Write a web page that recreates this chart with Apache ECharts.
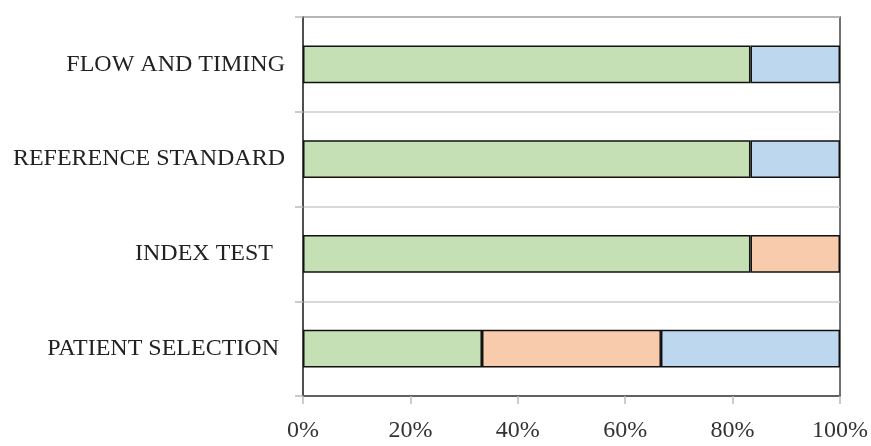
<!DOCTYPE html>
<html><head><meta charset="utf-8">
<script src="https://cdn.jsdelivr.net/npm/echarts@6/dist/echarts.min.js"></script>
<style>html,body{margin:0;padding:0;background:#fff}#c{width:871px;height:446px}</style>
</head><body><div id="c"></div>
<script>
const categories = ['PATIENT SELECTION ', 'INDEX TEST  ', 'REFERENCE STANDARD', 'FLOW AND TIMING'];
const lowRisk = [33.33, 83.33, 83.33, 83.33];
const highRisk = [33.33, 16.67, 0, 0];
const unclear = [33.34, 0, 16.67, 16.67];
const xTicks = [0, 20, 40, 60, 80, 100];

const font = 'Liberation Serif';
const chart = echarts.init(document.getElementById('c'));
const mk = (name, data, color) => ({
  name, type: 'bar', stack: 'total', data: data.map(v => v === 0 ? null : v),
  barWidth: '40%',
  itemStyle: { color, borderColor: '#111', borderWidth: 1.5 }
});
chart.setOption({
  animation: false,
  grid: { left: 303, right: 28, top: 17, bottom: 50, show: true, borderColor: '#444', borderWidth: 1.5, containLabel: false },
  xAxis: {
    type: 'value', min: xTicks[0], max: xTicks[xTicks.length - 1], interval: 20,
    axisLine: { show: true, lineStyle: { color: '#444', width: 1.5 } },
    axisTick: { show: true, length: 8, lineStyle: { color: '#bbb', width: 1.5 } },
    splitLine: { show: false },
    axisLabel: { formatter: '{value}%', fontFamily: font, fontSize: 24, color: '#333', margin: 23 }
  },
  yAxis: {
    type: 'category', data: categories,
    axisLine: { show: true, lineStyle: { color: '#444', width: 1.5 } },
    axisTick: { show: true, length: 8, lineStyle: { color: '#bbb', width: 1.5 } },
    splitLine: { show: true, lineStyle: { color: '#ccc', width: 1.5 } },
    axisLabel: { fontFamily: font, fontSize: 24, color: '#222', margin: 18 }
  },
  series: [
    mk('Low', lowRisk, '#C5E0B4'),
    mk('High', highRisk, '#F8CBAD'),
    mk('Unclear', unclear, '#BDD7EE')
  ]
});
</script></body></html>
